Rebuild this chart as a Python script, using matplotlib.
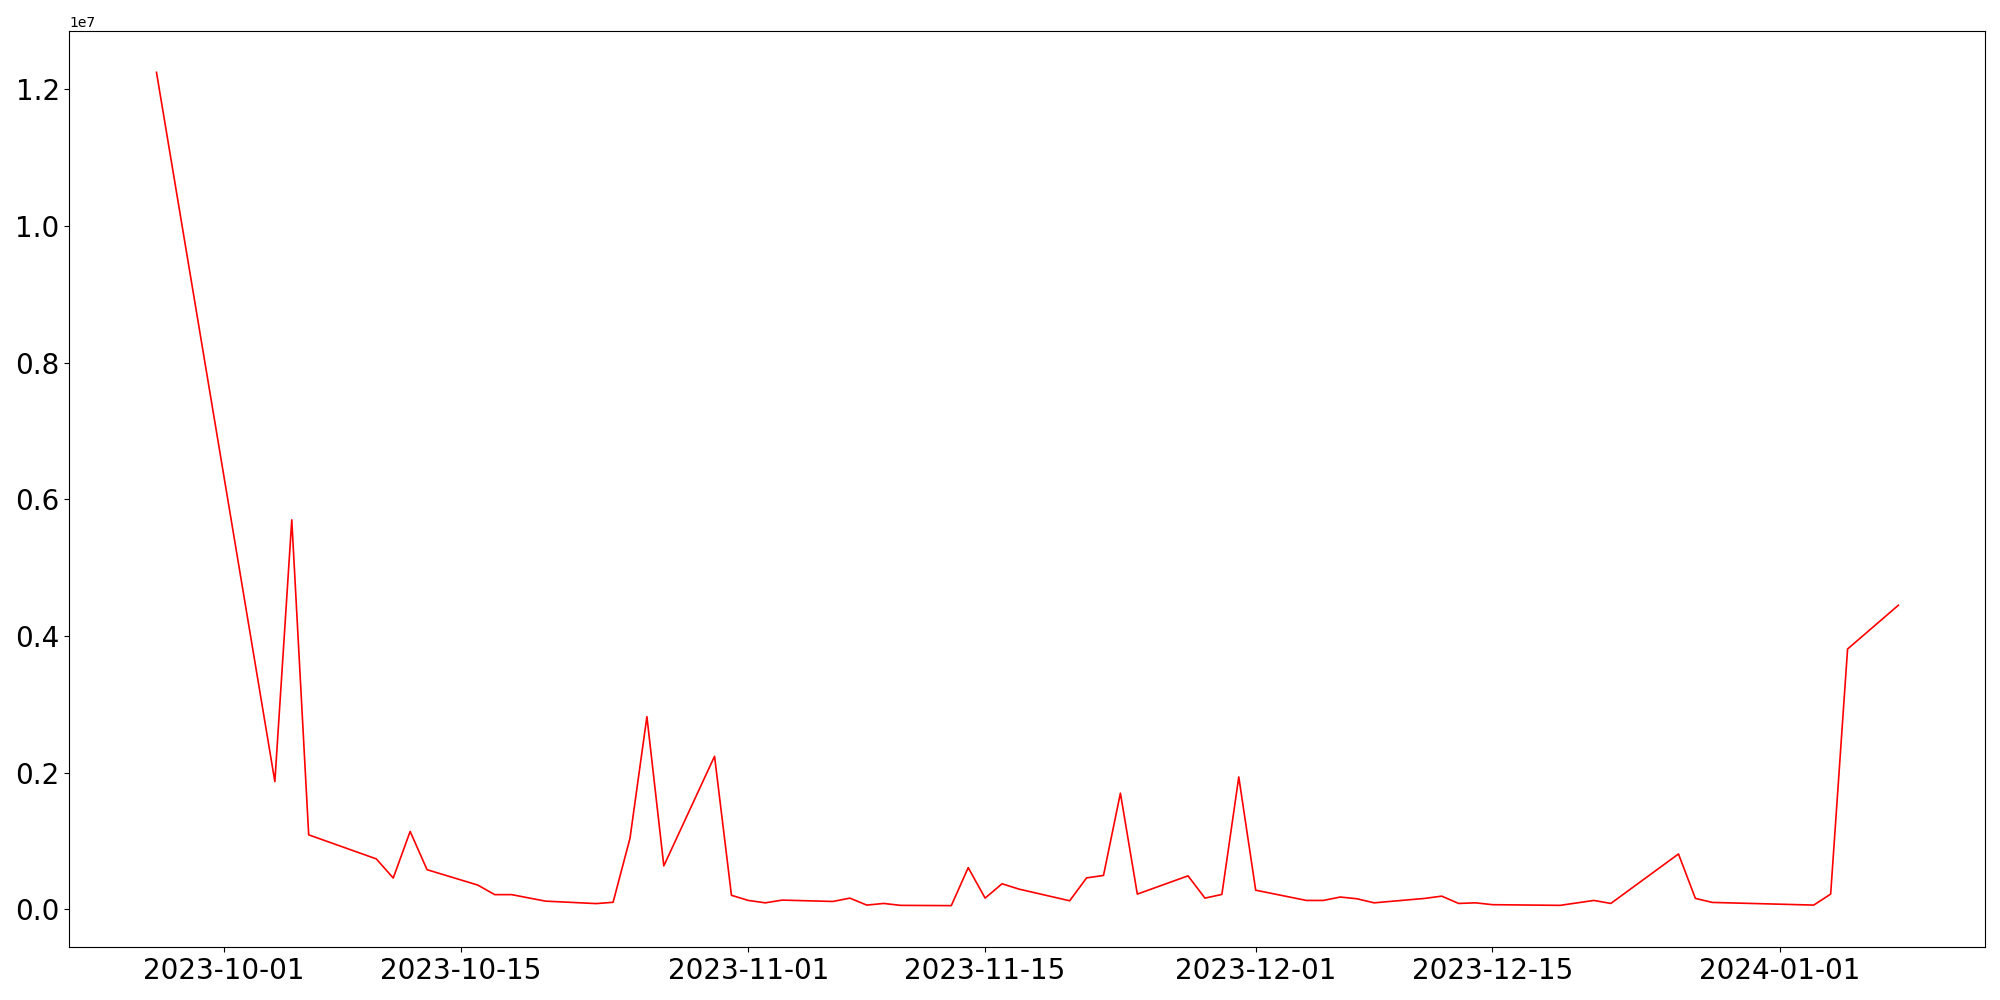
import matplotlib
matplotlib.use("Agg")
import matplotlib.pyplot as plt
import pandas as pd

# daily values (units of 1e7)
dates = ["2023-09-27", "2023-10-04", "2023-10-05", "2023-10-06", "2023-10-10",
         "2023-10-11", "2023-10-12", "2023-10-13", "2023-10-16", "2023-10-17",
         "2023-10-18", "2023-10-20", "2023-10-23", "2023-10-24", "2023-10-25",
         "2023-10-26", "2023-10-27", "2023-10-30", "2023-10-31", "2023-11-01",
         "2023-11-02", "2023-11-03", "2023-11-06", "2023-11-07", "2023-11-08",
         "2023-11-09", "2023-11-10", "2023-11-13", "2023-11-14", "2023-11-15",
         "2023-11-16", "2023-11-17", "2023-11-20", "2023-11-21", "2023-11-22",
         "2023-11-23", "2023-11-24", "2023-11-27", "2023-11-28", "2023-11-29",
         "2023-11-30", "2023-12-01", "2023-12-04", "2023-12-05", "2023-12-06",
         "2023-12-07", "2023-12-08", "2023-12-11", "2023-12-12", "2023-12-13",
         "2023-12-14", "2023-12-15", "2023-12-19", "2023-12-21", "2023-12-22",
         "2023-12-26", "2023-12-27", "2023-12-28", "2024-01-03", "2024-01-04",
         "2024-01-05", "2024-01-08"]
values = [1.225, 0.187, 0.570, 0.109, 0.0738,
          0.0458, 0.114, 0.058, 0.0355, 0.0215,
          0.0215, 0.012, 0.0084, 0.0103, 0.104,
          0.282, 0.0636, 0.224, 0.0205, 0.013,
          0.0095, 0.0135, 0.0115, 0.0164, 0.0062,
          0.0086, 0.0058, 0.0054, 0.061, 0.0164,
          0.0374, 0.0296, 0.0125, 0.046, 0.0496,
          0.170, 0.0223, 0.049, 0.0164, 0.0218,
          0.1937, 0.028, 0.013, 0.013, 0.018,
          0.0154, 0.0095, 0.016, 0.0193, 0.0086,
          0.0095, 0.0068, 0.0058, 0.013, 0.0086,
          0.081, 0.016, 0.0101, 0.0062, 0.0223,
          0.381, 0.445]

x = pd.to_datetime(dates)
y = [v * 1e7 for v in values]

fig = plt.figure(figsize=(20, 10), dpi=100)
ax = fig.add_axes([0.0347, 0.0527, 0.958, 0.9166])
ax.plot(x, y, color="red", linewidth=1.2)
ax.tick_params(axis="both", labelsize=20)

plt.savefig("out.png")
